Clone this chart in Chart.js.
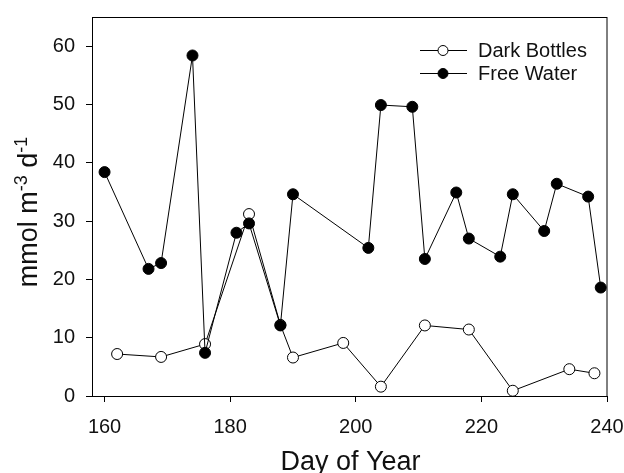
<!DOCTYPE html>
<html>
<head>
<meta charset="utf-8">
<script src="https://cdn.jsdelivr.net/npm/chart.js@4"></script>
<style>
  html, body { margin: 0; padding: 0; background: #fff; }
  #wrap { width: 624px; height: 473px; }
</style>
</head>
<body>
<div id="wrap"><canvas id="chart" width="624" height="473"></canvas></div>
<script>
// Day of year vs. rate (mmol m-3 d-1)
const darkDays = [162, 169, 176, 183, 188, 190, 198, 204, 211, 218, 225, 234, 238];
const darkValues = [7.2, 6.7, 8.9, 31.2, 12.2, 6.6, 9.1, 1.6, 12.1, 11.4, 0.9, 4.6, 3.9];

const freeDays = [160, 167, 169, 174, 176, 181, 183, 188, 190, 202, 204, 209, 211, 216, 218, 223, 225, 230, 232, 237, 239];
const freeValues = [38.4, 21.8, 22.8, 58.4, 7.4, 28.0, 29.6, 12.1, 34.6, 25.4, 49.9, 49.6, 23.5, 34.9, 27.0, 23.9, 34.6, 28.3, 36.4, 34.2, 18.6];

const seriesNames = ['Dark Bottles', 'Free Water'];
const xTicks = [160, 180, 200, 220, 240];
const yTicks = [0, 10, 20, 30, 40, 50, 60];

const FONT = "'Liberation Sans', Arial, sans-serif";

function toPoints(xs, ys) {
  return xs.map((x, i) => ({ x: x, y: ys[i] }));
}

// frame, titles and legend
const decorations = {
  id: 'decorations',
  afterDatasetsDraw(chart) {
    const ctx = chart.ctx;
    const a = chart.chartArea;
    ctx.save();
    ctx.strokeStyle = '#000';
    ctx.lineWidth = 1;
    ctx.strokeRect(Math.round(a.left) + 0.5, Math.round(a.top) + 0.5,
      Math.round(a.right - a.left) - 0.5, Math.round(a.bottom - a.top));

    // legend
    ctx.font = '20px ' + FONT;
    ctx.textBaseline = 'middle';
    ctx.textAlign = 'left';
    chart.data.datasets.forEach((ds, i) => {
      const y = 50 + i * 23;
      ctx.beginPath();
      ctx.moveTo(420, y + 0.5);
      ctx.lineTo(467, y + 0.5);
      ctx.stroke();
      ctx.beginPath();
      ctx.arc(443, y + 0.5, 5, 0, Math.PI * 2);
      ctx.fillStyle = ds.pointBackgroundColor;
      ctx.fill();
      ctx.stroke();
      ctx.fillStyle = '#111';
      ctx.fillText(ds.label, 478, y + 1);
    });

    // x title
    ctx.font = '27px ' + FONT;
    ctx.textAlign = 'center';
    ctx.textBaseline = 'alphabetic';
    ctx.fillText('Day of Year', (a.left + a.right) / 2 + 1, 470);

    // y title with superscripts
    ctx.translate(37, 212);
    ctx.rotate(-Math.PI / 2);
    const parts = [['mmol m', false], ['-3', true], [' d', false], ['-1', true]];
    const big = '27px ' + FONT, small = '18px ' + FONT;
    let total = 0;
    parts.forEach(p => { ctx.font = p[1] ? small : big; total += ctx.measureText(p[0]).width; });
    let x = -total / 2;
    ctx.textAlign = 'left';
    ctx.textBaseline = 'alphabetic';
    parts.forEach(p => {
      ctx.font = p[1] ? small : big;
      ctx.fillText(p[0], x, p[1] ? -10 : 0);
      x += ctx.measureText(p[0]).width;
    });
    ctx.restore();
  }
};

new Chart(document.getElementById('chart'), {
  type: 'line',
  data: {
    datasets: [
      {
        label: seriesNames[0],
        data: toPoints(darkDays, darkValues),
        borderColor: '#000',
        borderWidth: 1,
        pointRadius: 5.5,
        pointBorderWidth: 1,
        pointBackgroundColor: '#fff',
        pointBorderColor: '#000',
        tension: 0,
        order: 1
      },
      {
        label: seriesNames[1],
        data: toPoints(freeDays, freeValues),
        borderColor: '#000',
        borderWidth: 1,
        pointRadius: 5.5,
        pointBorderWidth: 1,
        pointBackgroundColor: '#000',
        pointBorderColor: '#000',
        tension: 0,
        order: 0
      }
    ]
  },
  options: {
    responsive: false,
    animation: false,
    events: [],
    layout: { padding: { top: 17, right: 17, left: 0, bottom: 0 } },
    plugins: {
      legend: { display: false },
      tooltip: { enabled: false }
    },
    scales: {
      x: {
        type: 'linear',
        min: 158,
        max: 240,
        afterFit(scale) {
          scale.height = 77;
          scale.paddingLeft = 0;
          scale.paddingRight = 0;
        },
        afterBuildTicks(scale) { scale.ticks = xTicks.map(v => ({ value: v })); },
        grid: { drawOnChartArea: false, tickLength: 6, tickColor: '#000', lineWidth: 1 },
        border: { color: '#000', width: 1 },
        ticks: { color: '#111', font: { family: FONT, size: 20 }, padding: 13, maxRotation: 0 }
      },
      y: {
        type: 'linear',
        min: 0,
        max: 65,
        afterFit(scale) {
          scale.width = 92;
          scale.paddingTop = 0;
          scale.paddingBottom = 0;
        },
        afterBuildTicks(scale) { scale.ticks = yTicks.map(v => ({ value: v })); },
        grid: { drawOnChartArea: false, tickLength: 6, tickColor: '#000', lineWidth: 1 },
        border: { color: '#000', width: 1 },
        ticks: { color: '#111', font: { family: FONT, size: 20 }, padding: 11 }
      }
    }
  },
  plugins: [decorations]
});
</script>
</body>
</html>
